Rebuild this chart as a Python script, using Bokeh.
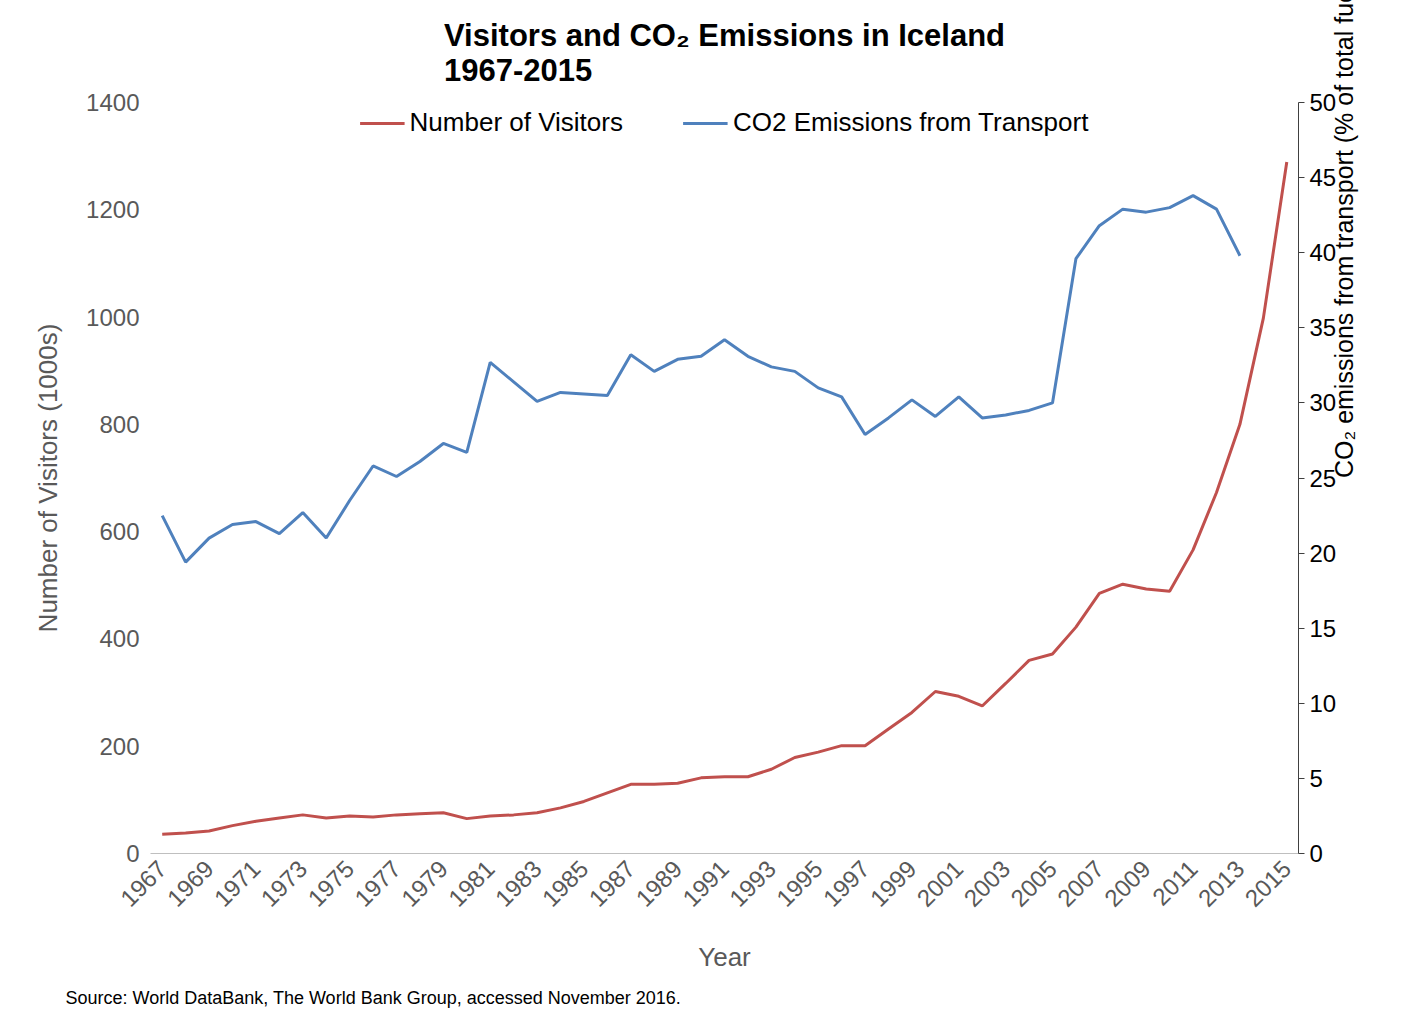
import math
from bokeh.plotting import figure
from bokeh.models import Range1d, LinearAxis, FixedTicker, Legend, LegendItem, Title
from bokeh.embed import file_html
from bokeh.resources import INLINE

years = list(range(1967, 2016))
visitors = [36, 38, 42, 52, 60, 66, 72, 66, 70, 68, 72, 74, 76, 65, 70, 72, 76, 85, 97, 113,
            129, 129, 131, 141, 143, 143, 157, 179, 189, 201, 201, 232, 263, 302, 293, 275, 317,
            360, 372, 422, 485, 502, 493, 489, 566, 673, 800, 998, 1289]
co2_years = list(range(1967, 2014))
co2 = [22.5, 19.4, 21.0, 21.9, 22.1, 21.3, 22.7, 21.0, 23.5, 25.8, 25.1, 26.1, 27.3, 26.7,
       32.7, 31.4, 30.1, 30.7, 30.6, 30.5, 33.2, 32.1, 32.9, 33.1, 34.2, 33.1, 32.4, 32.1,
       31.0, 30.4, 27.9, 29.0, 30.2, 29.1, 30.4, 29.0, 29.2, 29.5, 30.0, 39.6, 41.8, 42.9,
       42.7, 43.0, 43.8, 42.9, 39.8]

FONT = "Liberation Sans"
GREY = "#595959"

p = figure(width=1406, height=1017, output_backend="svg", toolbar_location=None,
           x_range=Range1d(1966.5, 2015.5), y_range=Range1d(0, 1400),
           min_border_left=150, min_border_right=108, min_border_top=20, min_border_bottom=20)
p.title = Title(text="Visitors and CO₂ Emissions in Iceland\n1967-2015", align="center",
                text_font=FONT, text_font_size="31px", text_font_style="bold",
                text_color="black", offset=-13, standoff=30)
p.outline_line_color = None
p.grid.grid_line_color = None
p.extra_y_ranges = {"co2": Range1d(0, 50)}

r1 = p.line(years, visitors, line_color="#C0504D", line_width=3)
r2 = p.line(co2_years, co2, line_color="#4F81BD", line_width=3, y_range_name="co2")

xa = p.xaxis[0]
xa.ticker = FixedTicker(ticks=list(range(1967, 2016, 2)))
xa.major_label_orientation = 0.785
xa.axis_label = "Year"
xa.axis_label_standoff = 25
xa.major_tick_line_color = None
xa.minor_tick_line_color = None
xa.axis_line_color = "#BFBFBF"

ya = p.yaxis[0]
ya.ticker = FixedTicker(ticks=list(range(0, 1401, 200)))
ya.axis_label = "Number of Visitors (1000s)"
ya.axis_label_standoff = 20
ya.axis_line_color = None
ya.major_tick_line_color = None
ya.minor_tick_line_color = None

ra = LinearAxis(y_range_name="co2", ticker=FixedTicker(ticks=list(range(0, 51, 5))),
                axis_label="CO₂ emissions from transport (% of total fuel combustion)")
ra.axis_line_color = "#404040"
ra.major_tick_line_color = "#404040"
ra.major_tick_out = 6
ra.major_tick_in = 0
ra.minor_tick_line_color = None
ra.axis_label_orientation = math.pi / 2
p.add_layout(ra, "right")

for ax in (xa, ya):
    ax.major_label_text_font = FONT
    ax.major_label_text_font_size = "24px"
    ax.major_label_text_color = GREY
    ax.axis_label_text_font = FONT
    ax.axis_label_text_font_size = "26px"
    ax.axis_label_text_color = GREY
    ax.axis_label_text_font_style = "normal"
ra.major_label_text_font = FONT
ra.major_label_text_font_size = "24px"
ra.major_label_text_color = "black"
ra.axis_label_text_font = FONT
ra.axis_label_text_font_size = "25px"
ra.axis_label_text_color = "black"
ra.axis_label_text_font_style = "normal"

leg = Legend(items=[LegendItem(label="Number of Visitors", renderers=[r1]),
                    LegendItem(label="CO2 Emissions from Transport", renderers=[r2])],
             orientation="horizontal", location="top_center",
             border_line_color=None, background_fill_alpha=0,
             label_text_font=FONT, label_text_font_size="26px", label_text_color="black",
             glyph_width=45, spacing=60, margin=5)
p.add_layout(leg)

p.add_layout(Title(text="Source: World DataBank, The World Bank Group, accessed November 2016.",
                   align="left", offset=-85, text_font=FONT, text_font_size="18px",
                   text_font_style="normal", text_color="black", standoff=20), "below")

open("out.html", "w").write(file_html(p, INLINE))
